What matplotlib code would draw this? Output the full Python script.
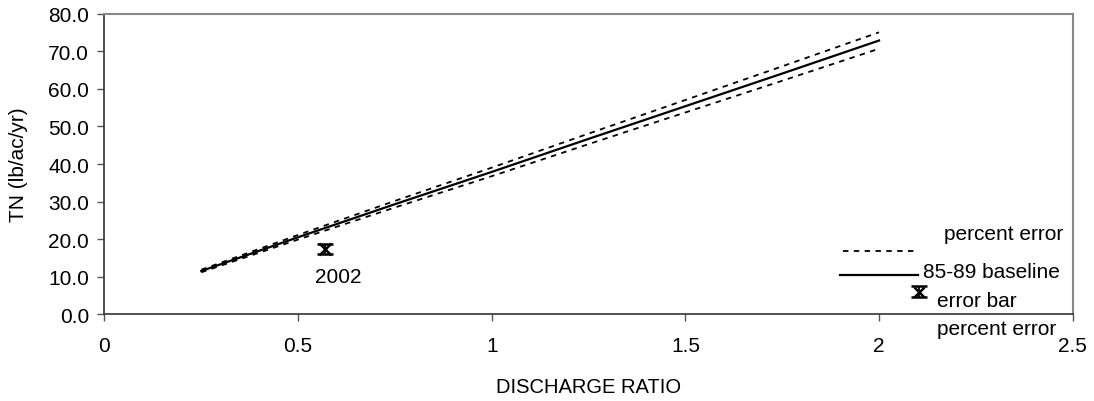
import numpy as np
import matplotlib
matplotlib.use("Agg")
import matplotlib.pyplot as plt
from matplotlib.lines import Line2D

plt.rcParams['font.family'] = ['Liberation Sans', 'DejaVu Sans']

# discharge ratio vs. TN load (85-89 baseline), +/- percent error
ratio = [0.25, 0.5, 0.75, 1.0, 1.25, 1.5, 1.75, 2.0]
baseline = [11.5, 20.5, 29.3, 37.9, 46.7, 55.4, 64.1, 72.9]
pct_err = 0.03

# 2002 observation with error bar
obs_x = [0.57]
obs_y = [17.3]
obs_err = [1.4]
obs_label = "2002"

xticks = [0, 0.5, 1, 1.5, 2, 2.5]
xticklabels = ["0", "0.5", "1", "1.5", "2", "2.5"]
yticks = [0, 10, 20, 30, 40, 50, 60, 70, 80]

base = np.array(baseline)
upper = base * (1 + pct_err)
lower = base * (1 - pct_err)

fs = 15

fig = plt.figure(figsize=(10.94, 4.02), dpi=100)
ax = fig.add_axes([0.0955, 0.216, 0.885, 0.747])

ax.plot(ratio, upper, color='black', lw=1.3, ls=(0, (3, 3)))
ax.plot(ratio, lower, color='black', lw=1.3, ls=(0, (3, 3)))
ax.plot(ratio, baseline, color='black', lw=1.6)
ax.errorbar(obs_x, obs_y, yerr=obs_err, fmt='x', color='black',
            ms=8, mew=1.8, capsize=5.5, elinewidth=1.3, capthick=1.5)
ax.text(0.604, 10.1, obs_label, ha='center', va='center', fontsize=fs)

ax.set_xlim(0, 2.5)
ax.set_ylim(0, 80)
ax.set_xticks(xticks)
ax.set_xticklabels(xticklabels)
ax.set_yticks(yticks)
ax.set_yticklabels([f"{v:.1f}" for v in yticks])
ax.tick_params(labelsize=fs, length=5, width=1, color='#555555')
ax.tick_params(axis='x', pad=10.5)
ax.tick_params(axis='y', pad=6)

for s in ['top', 'right']:
    ax.spines[s].set_color('#888888')
    ax.spines[s].set_linewidth(1.5)
for s in ['left', 'bottom']:
    ax.spines[s].set_color('#333333')
    ax.spines[s].set_linewidth(1.2)

ax.set_xlabel("DISCHARGE RATIO", fontsize=14.5, labelpad=16)
ax.set_ylabel("TN (lb/ac/yr)", fontsize=15)
ax.yaxis.set_label_coords(-0.079, 0.5)

# Excel-style legend drawn by hand
tr = ax.transAxes
ax.text(0.99, 0.25, "percent error", transform=tr, ha='right', va='baseline', fontsize=fs)
ax.add_line(Line2D([0.7625, 0.84], [0.21, 0.21], transform=tr, color='black',
                   lw=1.3, ls=(0, (3, 3))))
ax.add_line(Line2D([0.7595, 0.84], [0.13, 0.13], transform=tr, color='black', lw=1.6))
ax.text(0.845, 0.1233, "85-89 baseline", transform=tr, ha='left', va='baseline', fontsize=fs)
ax.errorbar([0.8415], [0.075], yerr=[0.018], transform=tr, fmt='x', color='black',
            ms=7, mew=1.8, capsize=5.5, elinewidth=1.3, capthick=1.5, clip_on=False)
ax.text(0.8596, 0.0277, "error bar", transform=tr, ha='left', va='baseline', fontsize=fs)
ax.text(0.983, -0.0667, "percent error", transform=tr, ha='right', va='baseline',
        fontsize=fs, clip_on=False)

fig.savefig("out.png", dpi=100)
